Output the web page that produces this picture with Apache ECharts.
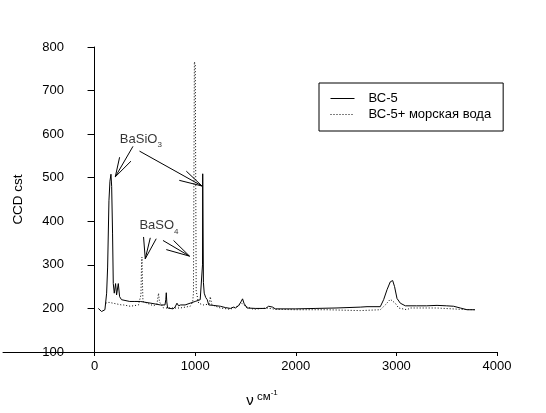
<!DOCTYPE html>
<html>
<head>
<meta charset="utf-8">
<script src="https://cdn.jsdelivr.net/npm/echarts@6/dist/echarts.min.js"></script>
<style>
html,body{margin:0;padding:0;background:#fff;}
#chart{width:546px;height:413px;}
</style>
</head>
<body>
<div id="chart"></div>
<script>
// ВС-5 (solid)
const bc5Wavenumber = [37,70,103,120,130,143,153,163,170,176,179,186,196,209,219,236,249,268,286,350,401,455,560,654,700,708,713,718,726,780,800,819,835,855,900,950,1000,1050,1068,1073,1075,1079,1082,1090,1105,1120,1135,1180,1250,1300,1350,1380,1400,1430,1455,1471,1485,1515,1600,1700,1730,1747,1770,1796,2000,2200,2400,2641,2708,2840,2873,2907,2939,2963,2982,3006,3039,3089,3200,3300,3404,3500,3569,3635,3702,3780];
const bc5Counts     = [200,193,197,235,295,447,492,508,480,477,371,257,235,257,231,257,227,220,216,216,216,216,212,208,208,220,236,215,201,199,203,212,206,208,208,212,216,220,222,300,509,505,260,235,225,220,208,207,205,202,200,203,201,206,215,222,212,201,200,200,205,208,203,199,199,200,201,203,204,204,220,243,261,264,250,223,212,206,206,206,207,206,205,201,197,197];
// ВС-5 + морская вода (dotted)
const seaWavenumber = [110,143,156,268,288,355,437,461,466,471,476,481,521,587,620,636,645,653,686,852,951,975,983,992,1001,1010,1018,1034,1080,1140,1150,1160,1167,1250,1349,1415,1465,1498,1580,1714,1740,1800,2000,2300,2641,2840,2890,2939,2956,2989,3022,3105,3138,3400,3635,3780];
const seaCounts     = [212,214,216,208,208,205,208,231,290,318,260,216,212,206,210,235,215,212,201,201,205,215,235,766,760,240,231,212,208,210,227,215,208,201,198,205,212,205,198,201,200,198,197,197,195,197,208,221,223,212,201,197,201,201,198,197];
// annotation arrows [x1, y1, x2, y2] in data units
const arrowSegments = [
  [382,572, 206,502], [249,547, 206,502], [362,538, 206,502],
  [447,561, 1068,481], [912,515, 1068,481], [842,494, 1068,481],
  [613,360, 504,314], [487,364, 504,314], [554,362, 504,314],
  [680,356, 944,320], [785,356, 944,320], [713,335, 944,320]
];
const annotationLabels = [
  {x: 460, y: 584, text: '{a|BaSiO}{b|3}'},
  {x: 640, y: 386, text: '{a|BaSO}{b|4}'}
];
const xTicks = [0,1000,2000,3000,4000];
const seriesNames = ['ВС-5', 'ВС-5+ морская вода'];

const zip = (xs, ys) => xs.map((x, i) => [x, ys[i]]);
const font = 'Arial, "Liberation Sans", sans-serif';

const chart = echarts.init(document.getElementById('chart'), null, {renderer: 'canvas'});
chart.setOption({
  animation: false,
  backgroundColor: '#fff',
  grid: {left: 3, right: 49, top: 47, bottom: 57, containLabel: false},
  legend: {
    data: seriesNames,
    orient: 'vertical',
    left: 319, top: 83,
    padding: [9, 12, 10, 11],
    itemGap: 3,
    itemWidth: 24, itemHeight: 13,
    borderColor: '#000', borderWidth: 1,
    itemStyle: {opacity: 0},
    lineStyle: {width: 1},
    textStyle: {color: '#000', fontSize: 13, fontFamily: font, padding: [0,0,0,9]}
  },
  xAxis: {
    type: 'value', min: -910, max: 4000,
    splitLine: {show: false},
    axisLine: {onZero: false, lineStyle: {color: '#000', width: 1}},
    axisTick: {show: true, customValues: xTicks, length: 4, lineStyle: {color: '#000'}},
    axisLabel: {customValues: xTicks, formatter: v => String(v), color: '#000', fontSize: 13, fontFamily: font, margin: 8},
    name: '{v|ν} {s|см}{e|-1}',
    nameLocation: 'middle',
    nameGap: 37,
    nameTextStyle: {
      padding: [0, 0, 0, 24],
      rich: {
        v: {fontSize: 15, fontFamily: font, color: '#000', verticalAlign: 'bottom'},
        s: {fontSize: 11.5, fontFamily: font, color: '#000', verticalAlign: 'bottom', padding: [0,0,5,0]},
        e: {fontSize: 8, fontFamily: font, color: '#000', verticalAlign: 'bottom', padding: [0,0,11,0]}
      }
    }
  },
  yAxis: {
    type: 'value', min: 100, max: 800, interval: 100,
    offset: -74,
    splitLine: {show: false},
    axisLine: {show: true, lineStyle: {color: '#000', width: 1}},
    axisTick: {show: true, length: 7, lineStyle: {color: '#000'}},
    axisLabel: {color: '#000', fontSize: 13, fontFamily: font, margin: 13},
    name: 'CCD cst',
    nameLocation: 'middle',
    nameRotate: 90,
    nameGap: 52,
    nameTextStyle: {color: '#000', fontSize: 13.5, fontFamily: font}
  },
  series: [
    {
      name: seriesNames[0], type: 'line', data: zip(bc5Wavenumber, bc5Counts),
      symbol: 'none', lineStyle: {color: '#000', width: 1}, itemStyle: {color: '#000'}, z: 3
    },
    {
      name: seriesNames[1], type: 'line', data: zip(seaWavenumber, seaCounts),
      symbol: 'none', lineStyle: {color: '#000', width: 1, type: [1, 2]}, itemStyle: {color: '#000'}, z: 2
    },
    {
      type: 'lines', coordinateSystem: 'cartesian2d', silent: true,
      data: arrowSegments.map(s => ({coords: [[s[0], s[1]], [s[2], s[3]]]})),
      lineStyle: {color: '#000', width: 1, opacity: 1}, symbol: 'none', z: 4
    },
    {
      type: 'scatter', symbolSize: 0, silent: true,
      data: annotationLabels.map(a => ({value: [a.x, a.y], name: a.text})),
      label: {
        show: true, position: 'inside', formatter: p => p.name,
        rich: {
          a: {fontSize: 13, fontFamily: font, color: '#000', verticalAlign: 'bottom', padding: [0,0,3,0]},
          b: {fontSize: 8, fontFamily: font, color: '#000', verticalAlign: 'bottom'}
        }
      }
    }
  ]
});
</script>
</body>
</html>
